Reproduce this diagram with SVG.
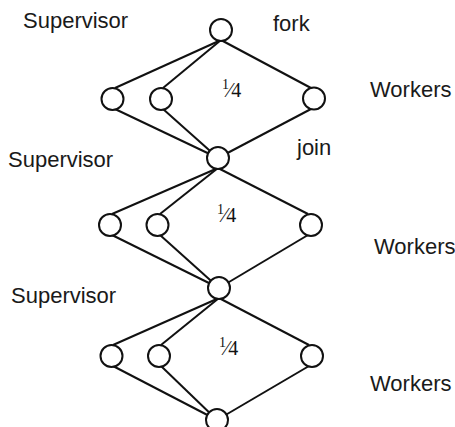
<svg xmlns="http://www.w3.org/2000/svg" width="455" height="427" viewBox="0 0 455 427">
<style>
.lbl{font-family:"Liberation Sans",Arial,sans-serif;font-size:22px;fill:#1a1a1a}
.frac{font-family:"Liberation Serif","Times New Roman",serif;font-size:20px;fill:#111}
.num{font-size:14px}
line{stroke:#111;stroke-width:2;fill:none}
circle{stroke:#111;stroke-width:2;fill:#fff}
</style>
<rect width="455" height="427" fill="#fff"/>
<g id="connectors">
<line x1="221" y1="40" x2="115" y2="88"/>
<line x1="221" y1="40" x2="163" y2="88"/>
<line x1="221" y1="40" x2="311" y2="88"/>
<line x1="115" y1="109" x2="218" y2="158"/>
<line x1="163" y1="109" x2="218" y2="158"/>
<line x1="311" y1="109" x2="218" y2="158"/>
<line x1="218" y1="168" x2="112" y2="214"/>
<line x1="218" y1="168" x2="160" y2="214"/>
<line x1="218" y1="168" x2="308" y2="214"/>
<line x1="112" y1="235" x2="219" y2="288"/>
<line x1="160" y1="235" x2="219" y2="288"/>
<line x1="308" y1="235" x2="219" y2="288"/>
<line x1="219" y1="298" x2="113" y2="345"/>
<line x1="219" y1="298" x2="161" y2="345"/>
<line x1="219" y1="298" x2="309" y2="345"/>
<line x1="113" y1="366" x2="217" y2="420"/>
<line x1="161" y1="366" x2="217" y2="420"/>
<line x1="309" y1="366" x2="217" y2="420"/>
</g>
<g id="fork1"><circle cx="221" cy="30" r="11"/></g>
<g id="w1a"><circle cx="112.5" cy="99" r="11"/></g>
<g id="w1b"><circle cx="161" cy="99" r="11"/></g>
<g id="w1c"><circle cx="314" cy="98.5" r="11"/></g>
<g id="join1"><circle cx="218" cy="158" r="11"/></g>
<g id="w2a"><circle cx="110" cy="225" r="11"/></g>
<g id="w2b"><circle cx="157.5" cy="225" r="11"/></g>
<g id="w2c"><circle cx="311" cy="225" r="11"/></g>
<g id="join2"><circle cx="219" cy="288" r="11"/></g>
<g id="w3a"><circle cx="111.5" cy="356" r="11"/></g>
<g id="w3b"><circle cx="159" cy="356" r="11"/></g>
<g id="w3c"><circle cx="312" cy="356" r="11"/></g>
<g id="join3"><circle cx="217" cy="420" r="11"/></g>
<g id="labels">
<text class="lbl" x="23" y="28">Supervisor</text>
<text class="lbl" x="273" y="31">fork</text>
<text class="lbl" x="370" y="97">Workers</text>
<text class="lbl" x="8" y="167">Supervisor</text>
<text class="lbl" x="297" y="155">join</text>
<text class="lbl" x="374" y="254">Workers</text>
<text class="lbl" x="11" y="303">Supervisor</text>
<text class="lbl" x="370" y="391">Workers</text>
</g>
<g id="fractions">
<text class="frac" x="222" y="97"><tspan class="num" dy="-8">1</tspan><tspan dy="8" dx="-1">⁄4</tspan></text>
<text class="frac" x="217" y="222"><tspan class="num" dy="-8">1</tspan><tspan dy="8" dx="-1">⁄4</tspan></text>
<text class="frac" x="219" y="355"><tspan class="num" dy="-8">1</tspan><tspan dy="8" dx="-1">⁄4</tspan></text>
</g>
</svg>
